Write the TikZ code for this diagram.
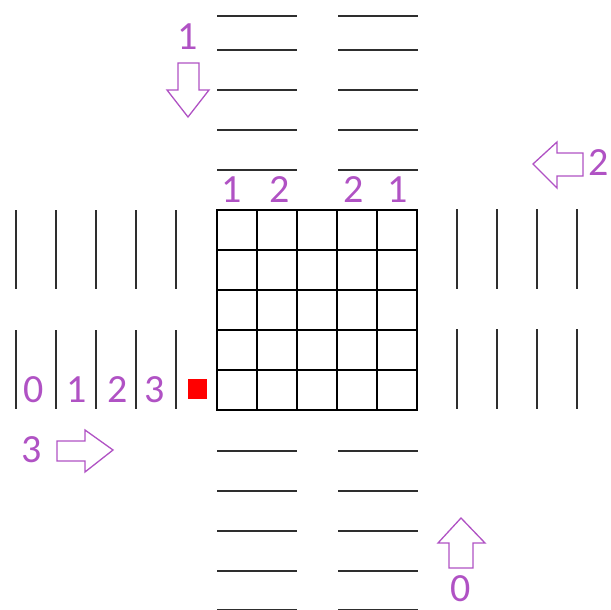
\documentclass[tikz,border=0pt]{standalone}
\usepackage{fontspec}
\setmainfont{Carlito}
\begin{document}
\begin{tikzpicture}[x=1pt,y=-1pt,
  lane/.style={line width=2.6pt,color=black!82},
  gridline/.style={line width=1.8pt,color=black},
  lbl/.style={text=lblpurple,inner sep=0pt,font=\fontsize{40}{40}\selectfont},
  arr/.style={draw=lblpurple,line width=1.3pt,fill=white,line join=miter}]
\definecolor{lblpurple}{RGB}{176,82,196}
\useasboundingbox (0,0) rectangle (611,610);
% grid
\foreach \i in {0,...,5}{
  \draw[gridline] (217+40*\i,210) -- (217+40*\i,410);
  \draw[gridline] (217,210+40*\i) -- (417,210+40*\i);
}
\draw[gridline] (217,210) rectangle (417,410);
% top lanes
\foreach \y in {16,50,90,130,170}{
  \draw[lane] (217,\y) -- (297,\y);
  \draw[lane] (338,\y) -- (418,\y);
}
% bottom lanes
\foreach \y in {451,491,531,571,610}{
  \draw[lane] (217,\y) -- (297,\y);
  \draw[lane] (338,\y) -- (418,\y);
}
% left lanes
\foreach \x in {16,56,96,136,176}{
  \draw[lane] (\x,210) -- (\x,289);
  \draw[lane] (\x,330) -- (\x,409);
}
% right lanes
\foreach \x in {457,497,537,577}{
  \draw[lane] (\x,209) -- (\x,289);
  \draw[lane] (\x,329) -- (\x,409);
}
% red square
\fill[red] (188,379) rectangle (207,399);
% arrows
\draw[arr] (178,63) -- (199,63) -- (199,90) -- (209,90) -- (188,117) -- (167,90) -- (178,90) -- cycle;
\draw[arr] (583,153) -- (583,176) -- (557,176) -- (557,188) -- (533,164) -- (557,142) -- (557,153) -- cycle;
\draw[arr] (449,568) -- (473,568) -- (473,543) -- (485,543) -- (461,518) -- (438,543) -- (449,543) -- cycle;
\draw[arr] (57,441) -- (85,441) -- (85,430) -- (113,450) -- (85,472) -- (85,461) -- (57,461) -- cycle;
% labels
\node[lbl] (ltop) at (188,37) {1};
\node[lbl] (lright) at (599,163) {2};
\node[lbl] (lbottom) at (461,589) {0};
\node[lbl] (lleft) at (32,450) {3};
\node[lbl] (t1) at (232,190) {1};
\node[lbl] (t2) at (280,190) {2};
\node[lbl] (t3) at (354,190) {2};
\node[lbl] (t4) at (398,190) {1};
\node[lbl] (w0) at (34,390) {0};
\node[lbl] (w1) at (77,390) {1};
\node[lbl] (w2) at (118,390) {2};
\node[lbl] (w3) at (155,390) {3};
\end{tikzpicture}
\end{document}
